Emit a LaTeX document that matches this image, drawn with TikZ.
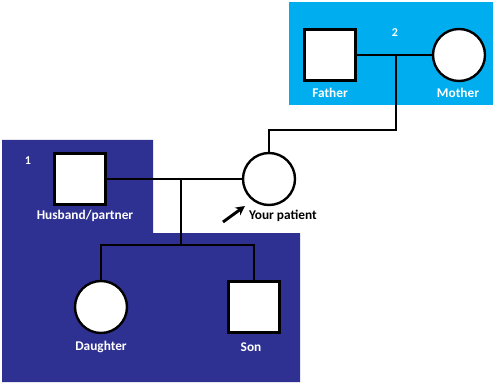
\documentclass[tikz,border=0pt]{standalone}
\usepackage{fontspec}
\usetikzlibrary{arrows.meta}
\setmainfont{Carlito}
\definecolor{lightbluebox}{HTML}{00AEEF}
\definecolor{darkbluebox}{HTML}{2E3192}
\begin{document}
\begin{tikzpicture}[x=0.75pt,y=-0.75pt,>=stealth,line width=1.5pt,
  male/.style={draw,fill=white,rectangle,minimum size=38pt,line width=1.8pt},
  female/.style={draw,fill=white,circle,minimum size=39pt,line width=1.8pt},
  lbl/.style={text=white,font=\fontsize{10}{11}\selectfont\bfseries,inner sep=0pt},
  num/.style={text=white,font=\fontsize{9}{10}\selectfont\bfseries,inner sep=0pt}]
  \useasboundingbox (0,0) rectangle (498,384);
  % family boxes
  \fill[lightbluebox] (289,2) rectangle (493,105);
  \fill[darkbluebox] (2,140) -- (153,140) -- (153,233) -- (300,233) -- (300,382) -- (2,382) -- cycle;
  \node[num] (n2) at (395,33) {2};
  \node[num] (n1) at (28,161) {1};

  \node[male] (fat) at (330,55) {};
  \node[female] (mot) at (459,55) {};
  \node[male] (hus) at (80,179) {};
  \node[female] (pat) at (269,179) {};
  \node[female] (dau) at (101,307) {};
  \node[male] (son) at (254,307) {};

  \node[lbl] (lfat) at (330,93) {Father};
  \node[lbl] (lmot) at (458,93) {Mother};
  \node[lbl] (lhus) at (85,216) {Husband/partner};
  \node[lbl] (ldau) at (101,347) {Daughter};
  \node[lbl] (lson) at (251,347) {Son};
  \node[inner sep=0pt,anchor=west,font=\fontsize{10}{11}\selectfont\bfseries] (lpat) at (248,216) {Your patient};

  \coordinate (m1) at (396,55);
  \coordinate (b1) at (396,130);
  \coordinate (m2) at (181,179);
  \coordinate (s1) at (181,245);
  \coordinate (a1) at (223,222);
  \coordinate (a2) at (245,206);

  \draw (fat) -- (mot);
  \draw (m1) -- (b1) -| (pat.north);
  \draw (hus) -- (pat);
  \draw (m2) -- (s1);
  \draw (dau.north) |- (s1) -| (son.north);
  \draw[-{Stealth[length=7pt,width=7pt]},line width=2.2pt] (a1) -- (a2);
\end{tikzpicture}
\end{document}
